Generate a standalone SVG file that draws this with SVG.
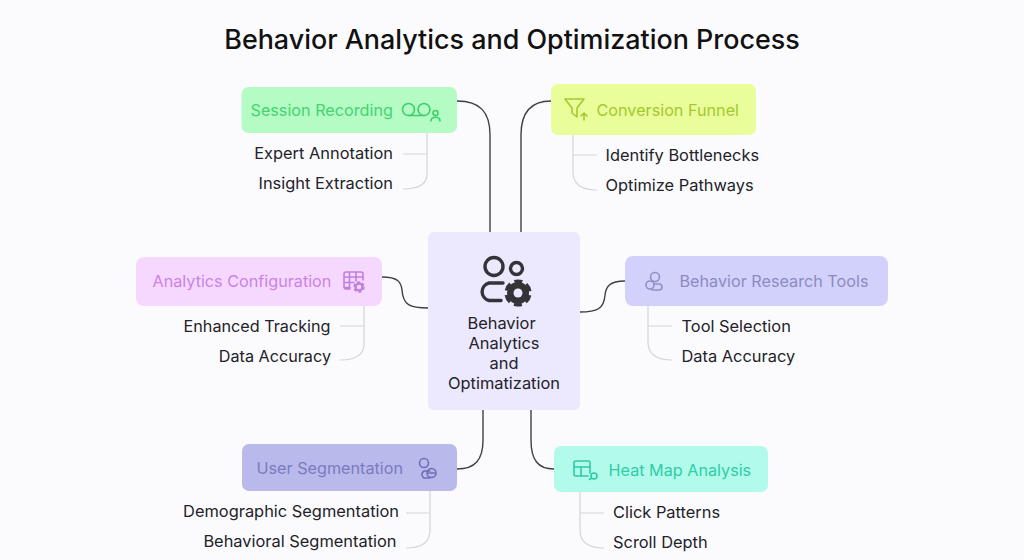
<svg xmlns="http://www.w3.org/2000/svg" width="1024" height="560" viewBox="0 0 1024 560">
<style>
text{font-family:"Inter","Liberation Sans",sans-serif}
.t{font-size:16.4px;fill:#222228}
.n{font-size:16.2px}
.c{fill:none;stroke:#3f3f46;stroke-width:1.4}
.s{fill:none;stroke:#d4d4da;stroke-width:1.2}
.i{fill:none;stroke-width:1.6;stroke-linecap:round;stroke-linejoin:round}
</style>
<rect width="1024" height="560" fill="#fbfbfe"/>
<text x="512" y="49" text-anchor="middle" font-size="26.9" font-weight="500" fill="#111">Behavior Analytics and Optimization Process</text>
<g id="connectors">
<path class="c" d="M457 101C480 101 490 112 490 135V232"/>
<path class="c" d="M551 101C531 101 521 112 521 135V232"/>
<path class="c" d="M382 277C398 277 401 282 402 290C403 305 410 308 428 308"/>
<path class="c" d="M625 281C609 281 606 287 605 295C604 309 597 312 580 312"/>
<path class="c" d="M457 469C475 469 483 460 483 440V410"/>
<path class="c" d="M554 469C538 469 531 460 531 440V410"/>
<path class="s" d="M427 133V174Q427 189 403 189M403 154H427"/>
<path class="s" d="M573 135V172Q573 190 597 190M573 155H597"/>
<path class="s" d="M364 306V344Q364 360 340 360M340 326H364"/>
<path class="s" d="M648 306V342Q648 360 672 360M648 326H672"/>
<path class="s" d="M430 491V530Q430 548 406 548M406 513H430"/>
<path class="s" d="M580 492V530Q580 548 604 548M580 513H604"/>
</g>
<g id="center">
<rect x="428" y="232" width="152" height="178" rx="6" fill="#ece8fe"/>
<g fill="none" stroke="#333338" stroke-width="3.4">
<circle cx="494" cy="266.500" r="9"/><circle cx="516.500" cy="268.500" r="6"/>
<path d="M503 283H489A9 9 0 0 0 489 300.500H501" stroke-linecap="round"/>
</g>
<circle cx="518" cy="293" r="11" fill="#333338"/>
<circle cx="518" cy="293" r="12" fill="none" stroke="#333338" stroke-width="3.200" stroke-dasharray="8 4.566" transform="rotate(11 518 293)"/>
<circle cx="518" cy="293" r="4.500" fill="#ece8fe"/>
<g class="t" text-anchor="middle">
<text x="501.500" y="329">Behavior</text><text x="504" y="349">Analytics</text><text x="504" y="369">and</text><text x="504" y="389">Optimatization</text>
</g>
</g>
<g id="session-recording">
<rect x="241.500" y="87" width="215.500" height="46" rx="7" fill="#b4fcc4"/>
<text class="n" x="250.500" y="116" fill="#45d470">Session Recording</text>
<g class="i" stroke="#3ecf6c"><circle cx="408.500" cy="109.500" r="6"/><circle cx="424" cy="109.500" r="6"/><path d="M408.500 115.500H424"/><circle cx="435.500" cy="113" r="2.500"/><path d="M431 121c0-5 9-5 9 0"/></g>
<text class="t" x="393" y="159" text-anchor="end">Expert Annotation</text>
<text class="t" x="393" y="189" text-anchor="end">Insight Extraction</text>
</g>
<g id="conversion-funnel">
<rect x="551" y="84" width="205" height="51" rx="7" fill="#e9fd9b"/>
<g class="i" stroke="#a4c92c"><path d="M565 99H584L577 108V117L572 113V108ZM584 120V113M581 116L584 113L587 116"/></g>
<text class="n" x="596.500" y="115.500" fill="#a4c92c">Conversion Funnel</text>
<text class="t" x="605.500" y="161">Identify Bottlenecks</text>
<text class="t" x="605.500" y="191">Optimize Pathways</text>
</g>
<g id="analytics-configuration">
<rect x="136" y="257" width="246" height="49" rx="8" fill="#f6d8ff"/>
<text class="n" x="152.500" y="287" fill="#c984e6">Analytics Configuration</text>
<g class="i" stroke="#c07fdf"><path d="M350 289H345.500A2 2 0 0 1 344 287V274A2 2 0 0 1 346 272H361A2 2 0 0 1 363 274V280M344 277H363M344 282.500H354M344 287.500H350M349.500 272V289M356 272V281"/></g>
<circle cx="359" cy="287" r="3.500" fill="none" stroke="#c07fdf" stroke-width="2.400"/>
<circle cx="359" cy="287" r="5" fill="none" stroke="#c07fdf" stroke-width="1.600" stroke-dasharray="2.900 2.336"/>
<text class="t" x="330.500" y="332" text-anchor="end" style="font-size:16.2px">Enhanced Tracking</text>
<text class="t" x="331" y="362" text-anchor="end" style="font-size:16.2px">Data Accuracy</text>
</g>
<g id="behavior-research-tools">
<rect x="625" y="256" width="263" height="50" rx="8" fill="#d2d1fc"/>
<g class="i" stroke="#9190c4" stroke-width="1.300"><circle cx="655" cy="277" r="4.500"/><circle cx="650" cy="285" r="4"/><path d="M654 284H659A3 3 0 0 1 659 290H652"/></g>
<text class="n" x="679.500" y="287" fill="#8c8bbf">Behavior Research Tools</text>
<text class="t" x="681.500" y="332">Tool Selection</text>
<text class="t" x="681.500" y="362">Data Accuracy</text>
</g>
<g id="user-segmentation">
<rect x="242" y="444" width="215" height="47" rx="7" fill="#b9b9ec"/>
<text class="n" x="256.500" y="473.500" fill="#7b7bc0">User Segmentation</text>
<g class="i" stroke="#6e6eb4"><circle cx="424" cy="463" r="4.500"/><path d="M430 471H424A4 4 0 0 0 424 478H430"/><circle cx="431.500" cy="473" r="4.500"/><path d="M428.500 473H434.500"/></g>
<text class="t" x="399" y="517" text-anchor="end">Demographic Segmentation</text>
<text class="t" x="396.500" y="547" text-anchor="end">Behavioral Segmentation</text>
</g>
<g id="heat-map-analysis">
<rect x="554" y="446" width="214" height="46" rx="7" fill="#b2fbeb"/>
<g class="i" stroke="#2ec9a5"><path d="M590 473V463A2 2 0 0 0 588 461H576A2 2 0 0 0 574 463V474A2 2 0 0 0 576 476H588M574 467H590M581 467V476"/><circle cx="594" cy="476" r="3"/><path d="M591 478.500L589.500 479.500"/></g>
<text class="n" x="608.500" y="476" fill="#2ecda8">Heat Map Analysis</text>
<text class="t" x="613" y="518">Click Patterns</text>
<text class="t" x="613" y="548">Scroll Depth</text>
</g>
</svg>
